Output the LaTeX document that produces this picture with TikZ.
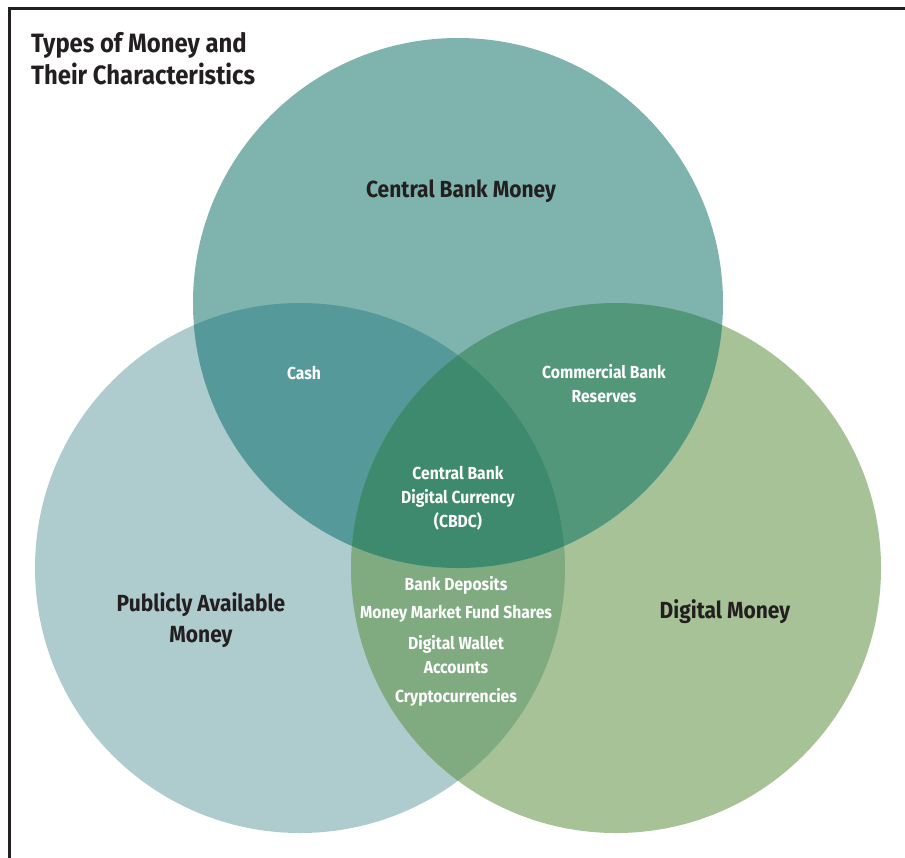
\documentclass[tikz,border=0pt]{standalone}
\usepackage{fontspec}
\setmainfont{Fira Sans}[FakeStretch=0.9]

\definecolor{topcol}{HTML}{7FB4AE}
\definecolor{leftcol}{HTML}{AECBCE}
\definecolor{rightcol}{HTML}{A6C296}
\definecolor{tlcol}{HTML}{56999A}
\definecolor{trcol}{HTML}{53977A}
\definecolor{lrcol}{HTML}{80AA80}
\definecolor{midcol}{HTML}{3E8A6E}
\definecolor{inkcol}{HTML}{231F20}

\newcommand{\rad}{265bp}

\begin{document}
\begin{tikzpicture}[x=1bp,y=-1bp]
      \tikzstyle{every node}+=[inner sep=0pt, align=center, font=\bfseries]
      \tikzstyle{bigtext}=[text=inkcol, font=\bfseries\fontsize{23.4}{31}\selectfont]
      \tikzstyle{smalltext}=[text=white, font=\bfseries\fontsize{17.5}{24}\selectfont]
      \useasboundingbox (0,0) rectangle (905,858);
      \coordinate (cbm) at (458,303);
      \coordinate (pub) at (300,568);
      \coordinate (dig) at (616,568);
      % frame
      \draw [inkcol, line width=3bp] (9.5,858) -- (9.5,8.5) -- (905,8.5);
      % circles
      \fill [leftcol] (pub) circle [radius=\rad];
      \fill [rightcol] (dig) circle [radius=\rad];
      \fill [topcol] (cbm) circle [radius=\rad];
      \begin{scope}
        \clip (cbm) circle [radius=\rad];
        \fill [tlcol] (pub) circle [radius=\rad];
        \fill [trcol] (dig) circle [radius=\rad];
      \end{scope}
      \begin{scope}
        \clip (pub) circle [radius=\rad];
        \fill [lrcol] (dig) circle [radius=\rad];
        \clip (dig) circle [radius=\rad];
        \fill [midcol] (cbm) circle [radius=\rad];
      \end{scope}
      % labels
      \node (title) [anchor=north west, align=left, text=inkcol,
        font=\bfseries\fontsize{26.6}{32.5}\selectfont] at (31,32) {Types of Money and\\Their Characteristics};
      \node (cbmlbl) [bigtext] at (461,191) {Central Bank Money};
      \node (publbl) [bigtext] at (201,620) {Publicly Available\\Money};
      \node (diglbl) [bigtext] at (725,612) {Digital Money};
      \node (cash) [smalltext] at (304,373) {Cash};
      \node (reserves) [smalltext] at (604,384) {Commercial Bank\\Reserves};
      \node (cbdc) [smalltext] at (458,498) {Central Bank\\Digital Currency\\(CBDC)};
      \node (deposits) [smalltext] at (456,585) {Bank Deposits};
      \node (mmf) [smalltext] at (456,614) {Money Market Fund Shares};
      \node (wallet) [smalltext] at (456,655) {Digital Wallet\\Accounts};
      \node (crypto) [smalltext] at (456,697) {Cryptocurrencies};
\end{tikzpicture}
\end{document}
